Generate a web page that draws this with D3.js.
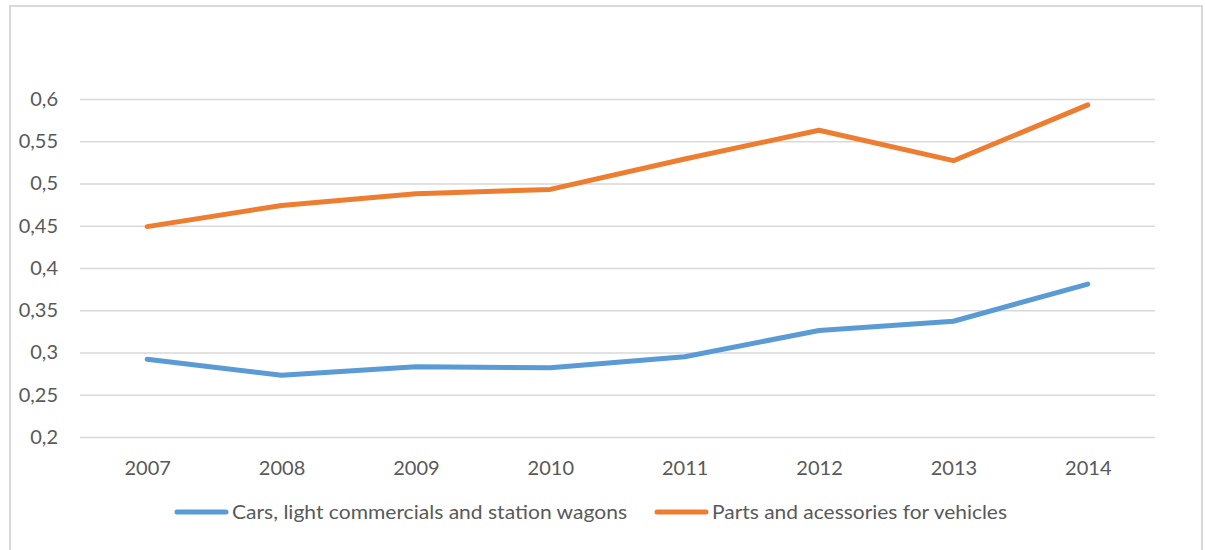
<!DOCTYPE html>
<html>
<head>
<meta charset="utf-8">
<script src="https://cdn.jsdelivr.net/npm/d3@7"></script>
<style>
  html, body { margin: 0; padding: 0; background: #fff; }
  svg { display: block; }
  text { font-family: Lato, "Open Sans", sans-serif; fill: #595959; }
</style>
</head>
<body>
<svg id="chart" width="1205" height="550"></svg>
<script>
// Yearly values for the two product groups
const years = ["2007", "2008", "2009", "2010", "2011", "2012", "2013", "2014"];
const carsValues = [0.292, 0.273, 0.283, 0.282, 0.295, 0.326, 0.337, 0.381];
const partsValues = [0.449, 0.474, 0.488, 0.493, 0.529, 0.563, 0.527, 0.593];
const yTicks = [0.2, 0.25, 0.3, 0.35, 0.4, 0.45, 0.5, 0.55, 0.6];
const seriesNames = ["Cars, light commercials and station wagons", "Parts and acessories for vehicles"];
const seriesColors = ["#5B9BD5", "#ED7D31"];

const svg = d3.select("#chart");

// Outer frame of the chart area
svg.append("path")
  .attr("d", "M10,551 L10,6 L1202,6 L1202,551")
  .attr("fill", "none")
  .attr("stroke", "#d9d9d9")
  .attr("stroke-width", 2);

const plot = { left: 80, right: 1155, top: 99, bottom: 437 };

const x = d3.scalePoint()
  .domain(years)
  .range([plot.left, plot.right])
  .padding(0.5);

const y = d3.scaleLinear()
  .domain([0.2, 0.6])
  .range([plot.bottom, plot.top]);

const fmt = v => d3.format("")(+v.toFixed(2)).replace(".", ",");
const labelSize = 20;

// Horizontal gridlines with value labels
const yAxis = d3.axisLeft(y)
  .tickValues(yTicks)
  .tickSize(-(plot.right - plot.left))
  .tickPadding(22)
  .tickFormat(fmt);

const gy = svg.append("g")
  .attr("transform", `translate(${plot.left},0)`)
  .call(yAxis);
gy.select(".domain").remove();
gy.selectAll(".tick line").attr("stroke", "#d9d9d9").attr("stroke-width", 1.5);
gy.selectAll(".tick text")
  .attr("font-size", labelSize)
  .attr("fill", "#595959")
  .style("font-family", "Lato, 'Open Sans', sans-serif");

// Year labels along the bottom
const xAxis = d3.axisBottom(x).tickSize(0).tickPadding(24);
const gx = svg.append("g")
  .attr("transform", `translate(0,${plot.bottom})`)
  .call(xAxis);
gx.select(".domain").remove();
gx.selectAll(".tick text")
  .attr("font-size", labelSize)
  .attr("fill", "#595959")
  .style("font-family", "Lato, 'Open Sans', sans-serif");

// Series lines
const line = d3.line()
  .x((d, i) => x(years[i]))
  .y(d => y(d));

[carsValues, partsValues].forEach((vals, k) => {
  svg.append("path")
    .datum(vals)
    .attr("d", line)
    .attr("fill", "none")
    .attr("stroke", seriesColors[k])
    .attr("stroke-width", 5)
    .attr("stroke-linecap", "round")
    .attr("stroke-linejoin", "round");
});

// Legend
const legendItems = [
  { x1: 177, x2: 226, tx: 232, width: 395 },
  { x1: 657, x2: 706, tx: 712, width: 295 }
];
const legendY = 512;
legendItems.forEach((it, k) => {
  svg.append("line")
    .attr("x1", it.x1).attr("x2", it.x2)
    .attr("y1", legendY).attr("y2", legendY)
    .attr("stroke", seriesColors[k])
    .attr("stroke-width", 5)
    .attr("stroke-linecap", "round");
  svg.append("text")
    .attr("x", it.tx)
    .attr("y", legendY)
    .attr("dy", "0.35em")
    .attr("font-size", labelSize)
    .attr("textLength", it.width)
    .attr("lengthAdjust", "spacingAndGlyphs")
    .text(seriesNames[k]);
});
</script>
</body>
</html>
